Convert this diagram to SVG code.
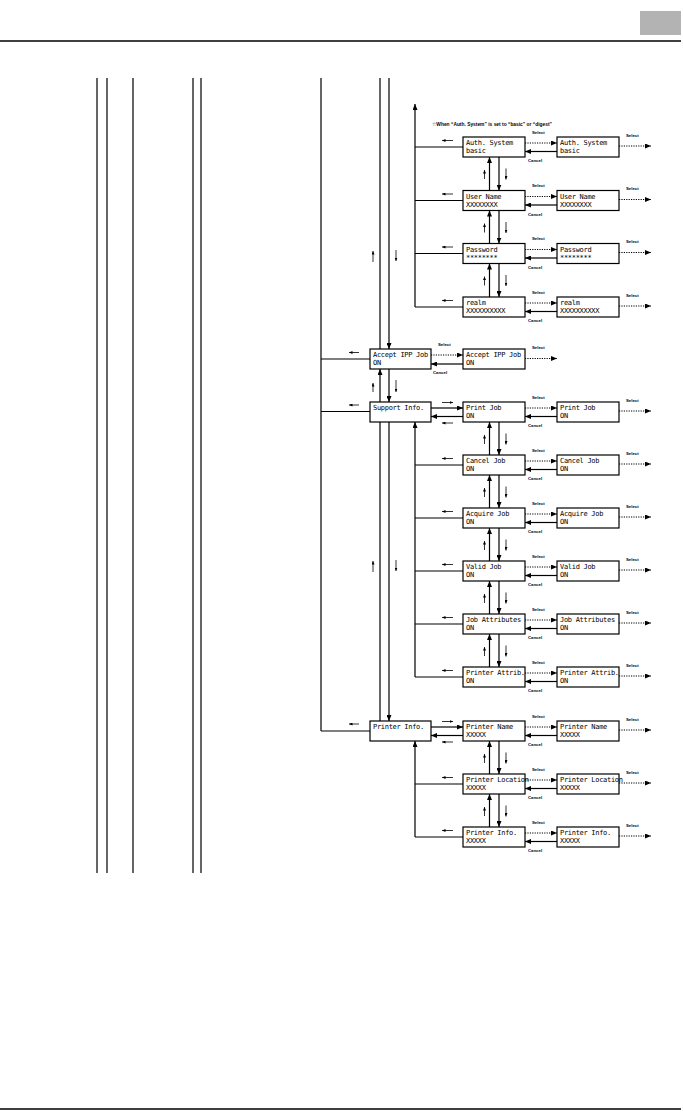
<svg xmlns="http://www.w3.org/2000/svg" width="683" height="1118" viewBox="0 0 683 1118">
<style>
.box{fill:#fff;stroke:#000;stroke-width:1.2}
.ln{stroke:#000;stroke-width:1.2;fill:none}
.dot{stroke:#000;stroke-width:1;stroke-dasharray:1.2 1.2;fill:none}
.sm{stroke:#000;stroke-width:0.8;fill:none}
.t{font-family:"DejaVu Sans Mono","Liberation Mono",monospace;font-size:7px;letter-spacing:-0.3px;fill:#000}
.lb{font-family:"Liberation Sans",Arial,sans-serif;font-size:4.3px;font-weight:bold;fill:#000}
.note{font-family:"Liberation Sans","DejaVu Sans",Arial,sans-serif;font-size:5.6px;font-weight:bold;fill:#000}
</style>
<defs>
<marker id="ah" markerUnits="userSpaceOnUse" markerWidth="6" markerHeight="5" refX="6" refY="2.5" orient="auto"><path d="M0,0 L6,2.5 L0,5 z" fill="#000"/></marker>
<marker id="sa" markerUnits="userSpaceOnUse" markerWidth="3.5" markerHeight="3" refX="3.5" refY="1.5" orient="auto"><path d="M0,0 L3.5,1.5 L0,3 z" fill="#000"/></marker>
</defs>
<rect width="683" height="1118" fill="#fff"/>
<g id="header">
<rect x="640" y="11" width="41" height="24" fill="#b3b3b3"/>
<line x1="0" y1="41" x2="681" y2="41" stroke="#000" stroke-width="1.3"/>
<line x1="0" y1="1109" x2="681" y2="1109" stroke="#000" stroke-width="1.3"/>
</g>
<text class="note" x="432" y="126" textLength="120" lengthAdjust="spacingAndGlyphs">☆When “Auth. System” is set to “basic” or “digest”</text>
<g id="connectors">
<path class="ln" d="M97,78V873 M107,78V873 M133,78V873 M193,78V873 M201,78V873 M321,78V731"/>
<path class="ln" d="M380,78V349 M380,721V422"/>
<path class="ln" marker-end="url(#ah)" d="M389,78V349"/>
<path class="ln" marker-end="url(#ah)" d="M380,402V369"/>
<path class="ln" marker-end="url(#ah)" d="M389,369V402"/>
<path class="ln" marker-end="url(#ah)" d="M389,422V721"/>
<path class="sm" marker-end="url(#sa)" d="M373,262V251"/>
<path class="sm" marker-end="url(#sa)" d="M396,250V261"/>
<path class="sm" marker-end="url(#sa)" d="M373,392V383"/>
<path class="sm" marker-end="url(#sa)" d="M396,380V392"/>
<path class="sm" marker-end="url(#sa)" d="M373,572V561"/>
<path class="sm" marker-end="url(#sa)" d="M396,560V571"/>
<path class="ln" d="M321,359H370 M321,411.5H370 M321,731H370"/>
<path class="sm" marker-end="url(#sa)" d="M359,352.5H349"/>
<path class="sm" marker-end="url(#sa)" d="M359,405H349"/>
<path class="sm" marker-end="url(#sa)" d="M359,724H349"/>
<!-- Accept IPP Job -->
<path class="dot" marker-end="url(#ah)" d="M431,355H463"/>
<path class="ln" marker-end="url(#ah)" d="M463,364H431"/>
<path class="dot" marker-end="url(#ah)" d="M525,358.5H557"/>
<text class="lb" x="438" y="346">Select</text>
<text class="lb" x="433" y="374">Cancel</text>
<text class="lb" x="532" y="348.5">Select</text>
<!-- Auth buses -->
<path class="ln" marker-end="url(#ah)" d="M415,307V104"/>
<path class="ln" d="M415,147H463 M415,200.5H463 M415,253.5H463 M415,307H463"/>
<path class="sm" marker-end="url(#sa)" d="M453,140.5H442"/>
<path class="sm" marker-end="url(#sa)" d="M453,194H442"/>
<path class="sm" marker-end="url(#sa)" d="M453,247H442"/>
<path class="sm" marker-end="url(#sa)" d="M453,300.5H442"/>
<!-- Auth rows select/cancel -->
<path class="dot" marker-end="url(#ah)" d="M525,143H557"/>
<path class="ln" marker-end="url(#ah)" d="M557,151.5H525"/>
<path class="dot" marker-end="url(#ah)" d="M619,146H651"/>
<text class="lb" x="532" y="133.5">Select</text><text class="lb" x="528" y="162">Cancel</text><text class="lb" x="626" y="136.5">Select</text>
<path class="dot" marker-end="url(#ah)" d="M525,196.5H557"/>
<path class="ln" marker-end="url(#ah)" d="M557,205H525"/>
<path class="dot" marker-end="url(#ah)" d="M619,199.5H651"/>
<text class="lb" x="532" y="187">Select</text><text class="lb" x="528" y="215.5">Cancel</text><text class="lb" x="626" y="190">Select</text>
<path class="dot" marker-end="url(#ah)" d="M525,249.5H557"/>
<path class="ln" marker-end="url(#ah)" d="M557,258H525"/>
<path class="dot" marker-end="url(#ah)" d="M619,252.5H651"/>
<text class="lb" x="532" y="240">Select</text><text class="lb" x="528" y="268.5">Cancel</text><text class="lb" x="626" y="243">Select</text>
<path class="dot" marker-end="url(#ah)" d="M525,303H557"/>
<path class="ln" marker-end="url(#ah)" d="M557,311.5H525"/>
<path class="dot" marker-end="url(#ah)" d="M619,306H651"/>
<text class="lb" x="532" y="293.5">Select</text><text class="lb" x="528" y="322">Cancel</text><text class="lb" x="626" y="296.5">Select</text>
<!-- Auth verticals -->
<path class="ln" marker-end="url(#ah)" d="M489.5,190.5V157"/><path class="ln" marker-end="url(#ah)" d="M499,157V190.5"/>
<path class="sm" marker-end="url(#sa)" d="M484.5,179V170"/><path class="sm" marker-end="url(#sa)" d="M506,168.5V179.5"/>
<path class="ln" marker-end="url(#ah)" d="M489.5,243.5V210.5"/><path class="ln" marker-end="url(#ah)" d="M499,210.5V243.5"/>
<path class="sm" marker-end="url(#sa)" d="M484.5,232.5V223.5"/><path class="sm" marker-end="url(#sa)" d="M506,222V233"/>
<path class="ln" marker-end="url(#ah)" d="M489.5,297V263.5"/><path class="ln" marker-end="url(#ah)" d="M499,263.5V297"/>
<path class="sm" marker-end="url(#sa)" d="M484.5,285.5V276.5"/><path class="sm" marker-end="url(#sa)" d="M506,275V286"/>
<!-- Support group -->
<path class="ln" marker-end="url(#ah)" d="M415,677V422"/>
<path class="ln" marker-end="url(#ah)" d="M431,408H463"/>
<path class="ln" marker-end="url(#ah)" d="M463,416.5H431"/>
<path class="sm" marker-end="url(#sa)" d="M442,402.5H453"/>
<path class="sm" marker-end="url(#sa)" d="M453,423H442"/>
<path class="ln" d="M415,465H463 M415,518H463 M415,571H463 M415,624H463 M415,677H463"/>
<path class="sm" marker-end="url(#sa)" d="M453,458.5H442"/>
<path class="sm" marker-end="url(#sa)" d="M453,511.5H442"/>
<path class="sm" marker-end="url(#sa)" d="M453,564.5H442"/>
<path class="sm" marker-end="url(#sa)" d="M453,617.5H442"/>
<path class="sm" marker-end="url(#sa)" d="M453,670.5H442"/>
<path class="dot" marker-end="url(#ah)" d="M525,408H557"/><path class="ln" marker-end="url(#ah)" d="M557,416.5H525"/><path class="dot" marker-end="url(#ah)" d="M619,411H651"/>
<text class="lb" x="532" y="398.5">Select</text><text class="lb" x="528" y="427">Cancel</text><text class="lb" x="626" y="401.5">Select</text>
<path class="dot" marker-end="url(#ah)" d="M525,461H557"/><path class="ln" marker-end="url(#ah)" d="M557,469.5H525"/><path class="dot" marker-end="url(#ah)" d="M619,464H651"/>
<text class="lb" x="532" y="451.5">Select</text><text class="lb" x="528" y="480">Cancel</text><text class="lb" x="626" y="454.5">Select</text>
<path class="dot" marker-end="url(#ah)" d="M525,514H557"/><path class="ln" marker-end="url(#ah)" d="M557,522.5H525"/><path class="dot" marker-end="url(#ah)" d="M619,517H651"/>
<text class="lb" x="532" y="504.5">Select</text><text class="lb" x="528" y="533">Cancel</text><text class="lb" x="626" y="507.5">Select</text>
<path class="dot" marker-end="url(#ah)" d="M525,567H557"/><path class="ln" marker-end="url(#ah)" d="M557,575.5H525"/><path class="dot" marker-end="url(#ah)" d="M619,570H651"/>
<text class="lb" x="532" y="557.5">Select</text><text class="lb" x="528" y="586">Cancel</text><text class="lb" x="626" y="560.5">Select</text>
<path class="dot" marker-end="url(#ah)" d="M525,620H557"/><path class="ln" marker-end="url(#ah)" d="M557,628.5H525"/><path class="dot" marker-end="url(#ah)" d="M619,623H651"/>
<text class="lb" x="532" y="610.5">Select</text><text class="lb" x="528" y="639">Cancel</text><text class="lb" x="626" y="613.5">Select</text>
<path class="dot" marker-end="url(#ah)" d="M525,673H557"/><path class="ln" marker-end="url(#ah)" d="M557,681.5H525"/><path class="dot" marker-end="url(#ah)" d="M619,676H651"/>
<text class="lb" x="532" y="663.5">Select</text><text class="lb" x="528" y="692">Cancel</text><text class="lb" x="626" y="666.5">Select</text>
<path class="ln" marker-end="url(#ah)" d="M489.5,455V422"/><path class="ln" marker-end="url(#ah)" d="M499,422V455"/>
<path class="sm" marker-end="url(#sa)" d="M484.5,444V435"/><path class="sm" marker-end="url(#sa)" d="M506,433.5V444.5"/>
<path class="ln" marker-end="url(#ah)" d="M489.5,508V475"/><path class="ln" marker-end="url(#ah)" d="M499,475V508"/>
<path class="sm" marker-end="url(#sa)" d="M484.5,497V488"/><path class="sm" marker-end="url(#sa)" d="M506,486.5V497.5"/>
<path class="ln" marker-end="url(#ah)" d="M489.5,561V528"/><path class="ln" marker-end="url(#ah)" d="M499,528V561"/>
<path class="sm" marker-end="url(#sa)" d="M484.5,550V541"/><path class="sm" marker-end="url(#sa)" d="M506,539.5V550.5"/>
<path class="ln" marker-end="url(#ah)" d="M489.5,614V581"/><path class="ln" marker-end="url(#ah)" d="M499,581V614"/>
<path class="sm" marker-end="url(#sa)" d="M484.5,603V594"/><path class="sm" marker-end="url(#sa)" d="M506,592.5V603.5"/>
<path class="ln" marker-end="url(#ah)" d="M489.5,667V634"/><path class="ln" marker-end="url(#ah)" d="M499,634V667"/>
<path class="sm" marker-end="url(#sa)" d="M484.5,656V647"/><path class="sm" marker-end="url(#sa)" d="M506,645.5V656.5"/>
<!-- Printer group -->
<path class="ln" marker-end="url(#ah)" d="M415,837V741"/>
<path class="ln" marker-end="url(#ah)" d="M431,727H463"/>
<path class="ln" marker-end="url(#ah)" d="M463,735.5H431"/>
<path class="sm" marker-end="url(#sa)" d="M442,721.5H453"/>
<path class="sm" marker-end="url(#sa)" d="M453,742H442"/>
<path class="ln" d="M415,784H463 M415,837H463"/>
<path class="sm" marker-end="url(#sa)" d="M453,777.5H442"/>
<path class="sm" marker-end="url(#sa)" d="M453,830.5H442"/>
<path class="dot" marker-end="url(#ah)" d="M525,727H557"/><path class="ln" marker-end="url(#ah)" d="M557,735.5H525"/><path class="dot" marker-end="url(#ah)" d="M619,730H651"/>
<text class="lb" x="532" y="717.5">Select</text><text class="lb" x="528" y="746">Cancel</text><text class="lb" x="626" y="720.5">Select</text>
<path class="dot" marker-end="url(#ah)" d="M525,780H557"/><path class="ln" marker-end="url(#ah)" d="M557,788.5H525"/><path class="dot" marker-end="url(#ah)" d="M619,783H651"/>
<text class="lb" x="532" y="770.5">Select</text><text class="lb" x="528" y="799">Cancel</text><text class="lb" x="626" y="773.5">Select</text>
<path class="dot" marker-end="url(#ah)" d="M525,833H557"/><path class="ln" marker-end="url(#ah)" d="M557,841.5H525"/><path class="dot" marker-end="url(#ah)" d="M619,836H651"/>
<text class="lb" x="532" y="823.5">Select</text><text class="lb" x="528" y="852">Cancel</text><text class="lb" x="626" y="826.5">Select</text>
<path class="ln" marker-end="url(#ah)" d="M489.5,774V741"/><path class="ln" marker-end="url(#ah)" d="M499,741V774"/>
<path class="sm" marker-end="url(#sa)" d="M484.5,763V754"/><path class="sm" marker-end="url(#sa)" d="M506,752.5V763.5"/>
<path class="ln" marker-end="url(#ah)" d="M489.5,827V794"/><path class="ln" marker-end="url(#ah)" d="M499,794V827"/>
<path class="sm" marker-end="url(#sa)" d="M484.5,816V807"/><path class="sm" marker-end="url(#sa)" d="M506,805.5V816.5"/>
</g>
<g id="n-accept-ipp"><rect class="box" x="370" y="349" width="61" height="20"/><text class="t" x="373" y="357">Accept IPP Job</text><text class="t" x="373" y="365">ON</text></g>
<g id="n-support-info"><rect class="box" x="370" y="402" width="61" height="20"/><text class="t" x="373" y="410">Support Info.</text></g>
<g id="n-printer-info-main"><rect class="box" x="370" y="721" width="61" height="20"/><text class="t" x="373" y="729">Printer Info.</text></g>
<g id="n-accept-ipp-set"><rect class="box" x="463" y="349" width="62" height="20"/><text class="t" x="466" y="357">Accept IPP Job</text><text class="t" x="466" y="365">ON</text></g>
<g id="n-auth"><rect class="box" x="463" y="137" width="62" height="20"/><text class="t" x="466" y="145">Auth. System</text><text class="t" x="466" y="153">basic</text></g>
<g id="n-auth-set"><rect class="box" x="557" y="137" width="62" height="20"/><text class="t" x="560" y="145">Auth. System</text><text class="t" x="560" y="153">basic</text></g>
<g id="n-user"><rect class="box" x="463" y="190.5" width="62" height="20"/><text class="t" x="466" y="198.5">User Name</text><text class="t" x="466" y="206.5">XXXXXXXX</text></g>
<g id="n-user-set"><rect class="box" x="557" y="190.5" width="62" height="20"/><text class="t" x="560" y="198.5">User Name</text><text class="t" x="560" y="206.5">XXXXXXXX</text></g>
<g id="n-pass"><rect class="box" x="463" y="243.5" width="62" height="20"/><text class="t" x="466" y="251.5">Password</text><text class="t" x="466" y="259.5">********</text></g>
<g id="n-pass-set"><rect class="box" x="557" y="243.5" width="62" height="20"/><text class="t" x="560" y="251.5">Password</text><text class="t" x="560" y="259.5">********</text></g>
<g id="n-realm"><rect class="box" x="463" y="297" width="62" height="20"/><text class="t" x="466" y="305">realm</text><text class="t" x="466" y="313">XXXXXXXXXX</text></g>
<g id="n-realm-set"><rect class="box" x="557" y="297" width="62" height="20"/><text class="t" x="560" y="305">realm</text><text class="t" x="560" y="313">XXXXXXXXXX</text></g>
<g id="n-print-job"><rect class="box" x="463" y="402" width="62" height="20"/><text class="t" x="466" y="410">Print Job</text><text class="t" x="466" y="418">ON</text></g>
<g id="n-print-job-set"><rect class="box" x="557" y="402" width="62" height="20"/><text class="t" x="560" y="410">Print Job</text><text class="t" x="560" y="418">ON</text></g>
<g id="n-cancel-job"><rect class="box" x="463" y="455" width="62" height="20"/><text class="t" x="466" y="463">Cancel Job</text><text class="t" x="466" y="471">ON</text></g>
<g id="n-cancel-job-set"><rect class="box" x="557" y="455" width="62" height="20"/><text class="t" x="560" y="463">Cancel Job</text><text class="t" x="560" y="471">ON</text></g>
<g id="n-acquire-job"><rect class="box" x="463" y="508" width="62" height="20"/><text class="t" x="466" y="516">Acquire Job</text><text class="t" x="466" y="524">ON</text></g>
<g id="n-acquire-job-set"><rect class="box" x="557" y="508" width="62" height="20"/><text class="t" x="560" y="516">Acquire Job</text><text class="t" x="560" y="524">ON</text></g>
<g id="n-valid-job"><rect class="box" x="463" y="561" width="62" height="20"/><text class="t" x="466" y="569">Valid Job</text><text class="t" x="466" y="577">ON</text></g>
<g id="n-valid-job-set"><rect class="box" x="557" y="561" width="62" height="20"/><text class="t" x="560" y="569">Valid Job</text><text class="t" x="560" y="577">ON</text></g>
<g id="n-job-attr"><rect class="box" x="463" y="614" width="62" height="20"/><text class="t" x="466" y="622">Job Attributes</text><text class="t" x="466" y="630">ON</text></g>
<g id="n-job-attr-set"><rect class="box" x="557" y="614" width="62" height="20"/><text class="t" x="560" y="622">Job Attributes</text><text class="t" x="560" y="630">ON</text></g>
<g id="n-printer-attr"><rect class="box" x="463" y="667" width="62" height="20"/><text class="t" x="466" y="675">Printer Attrib.</text><text class="t" x="466" y="683">ON</text></g>
<g id="n-printer-attr-set"><rect class="box" x="557" y="667" width="62" height="20"/><text class="t" x="560" y="675">Printer Attrib.</text><text class="t" x="560" y="683">ON</text></g>
<g id="n-printer-name"><rect class="box" x="463" y="721" width="62" height="20"/><text class="t" x="466" y="729">Printer Name</text><text class="t" x="466" y="737">XXXXX</text></g>
<g id="n-printer-name-set"><rect class="box" x="557" y="721" width="62" height="20"/><text class="t" x="560" y="729">Printer Name</text><text class="t" x="560" y="737">XXXXX</text></g>
<g id="n-printer-loc"><rect class="box" x="463" y="774" width="62" height="20"/><text class="t" x="466" y="782">Printer Location</text><text class="t" x="466" y="790">XXXXX</text></g>
<g id="n-printer-loc-set"><rect class="box" x="557" y="774" width="62" height="20"/><text class="t" x="560" y="782">Printer Location</text><text class="t" x="560" y="790">XXXXX</text></g>
<g id="n-printer-info"><rect class="box" x="463" y="827" width="62" height="20"/><text class="t" x="466" y="835">Printer Info.</text><text class="t" x="466" y="843">XXXXX</text></g>
<g id="n-printer-info-set"><rect class="box" x="557" y="827" width="62" height="20"/><text class="t" x="560" y="835">Printer Info.</text><text class="t" x="560" y="843">XXXXX</text></g>
</svg>
